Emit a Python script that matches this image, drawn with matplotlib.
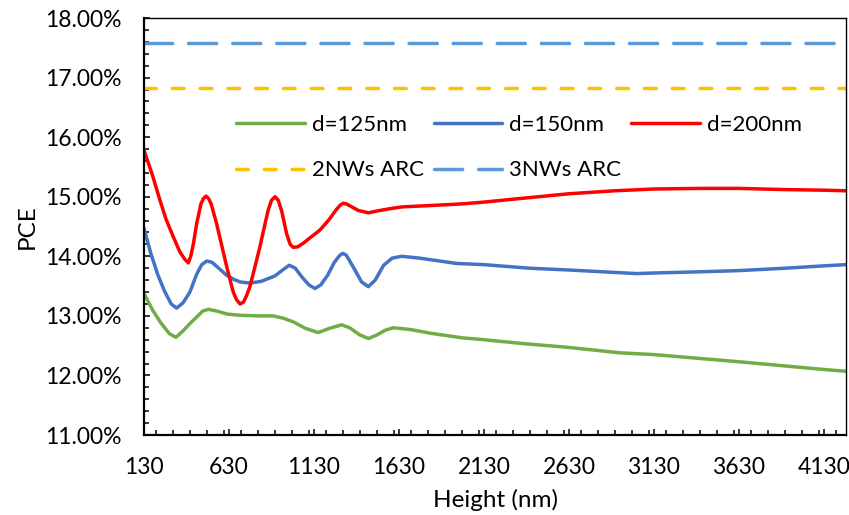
import matplotlib
matplotlib.use("Agg")
import matplotlib.pyplot as plt
from matplotlib.ticker import MultipleLocator, FixedLocator, FuncFormatter

plt.rcParams['font.family'] = ['Lato', 'DejaVu Sans']

# PCE (%) vs nanowire height (nm)
h_200 = [130, 180, 224, 260, 302, 340, 370, 391, 405, 420, 440, 465, 480, 495, 510, 525, 557, 590, 617,
         655, 675, 695, 715, 735, 753, 785, 812, 840, 861, 880, 901, 920, 940, 969, 990, 1008, 1035,
         1067, 1120, 1165, 1220, 1260, 1285, 1302, 1320, 1340, 1390, 1450, 1500, 1577, 1650, 1800,
         2000, 2130, 2342, 2630, 2900, 3130, 3400, 3630, 3900, 4130, 4260]
pce_200 = [15.78, 15.36, 14.94, 14.62, 14.33, 14.08, 13.95, 13.89, 14.00, 14.20, 14.55, 14.88, 14.97,
           15.01, 14.97, 14.88, 14.55, 14.15, 13.82, 13.40, 13.27, 13.20, 13.23, 13.35, 13.49, 13.85,
           14.16, 14.52, 14.78, 14.94, 15.00, 14.94, 14.76, 14.38, 14.20, 14.15, 14.16, 14.22, 14.34,
           14.44, 14.62, 14.78, 14.86, 14.89, 14.88, 14.85, 14.77, 14.73, 14.76, 14.80, 14.83, 14.85,
           14.88, 14.91, 14.97, 15.05, 15.10, 15.13, 15.14, 15.14, 15.12, 15.11, 15.10]

h_150 = [130, 170, 210, 250, 290, 322, 360, 400, 440, 470, 499, 530, 570, 617, 660, 695, 753, 820, 900,
         950, 985, 1020, 1060, 1100, 1136, 1170, 1210, 1250, 1280, 1299, 1320, 1361, 1410, 1450, 1490,
         1540, 1590, 1646, 1750, 1969, 2130, 2400, 2630, 3028, 3130, 3400, 3630, 3900, 4130, 4260]
pce_150 = [14.47, 14.05, 13.70, 13.42, 13.20, 13.13, 13.22, 13.40, 13.70, 13.86, 13.92, 13.90, 13.80,
           13.68, 13.61, 13.57, 13.55, 13.58, 13.67, 13.78, 13.85, 13.80, 13.65, 13.52, 13.46, 13.52,
           13.68, 13.90, 14.01, 14.05, 14.02, 13.82, 13.57, 13.49, 13.60, 13.85, 13.97, 14.00, 13.97,
           13.88, 13.86, 13.80, 13.77, 13.71, 13.72, 13.74, 13.76, 13.80, 13.84, 13.86]

h_125 = [130, 180, 230, 280, 318, 360, 400, 440, 475, 508, 560, 620, 695, 800, 891, 950, 1008, 1080,
         1155, 1220, 1293, 1340, 1400, 1450, 1500, 1550, 1597, 1700, 1812, 2006, 2130, 2342, 2630,
         2930, 3130, 3630, 4130, 4260]
pce_125 = [13.38, 13.10, 12.88, 12.70, 12.64, 12.75, 12.87, 12.98, 13.08, 13.11, 13.08, 13.03, 13.01,
           13.00, 13.00, 12.96, 12.90, 12.79, 12.72, 12.79, 12.85, 12.80, 12.68, 12.62, 12.68, 12.76,
           12.80, 12.77, 12.71, 12.63, 12.60, 12.54, 12.47, 12.38, 12.35, 12.23, 12.10, 12.07]

pce_2nws_arc = 16.83
pce_3nws_arc = 17.58

x_ticks = [130, 630, 1130, 1630, 2130, 2630, 3130, 3630, 4130]

fig = plt.figure(figsize=(8.49, 5.15), dpi=100)
ax = fig.add_axes([0.1696, 0.1553, 0.8269, 0.8097])

lw = 2.5
l125, = ax.plot(h_125, pce_125, color='#70AD47', lw=lw, label='d=125nm', solid_capstyle='round',
                solid_joinstyle='round')
l150, = ax.plot(h_150, pce_150, color='#4472C4', lw=lw, label='d=150nm', solid_capstyle='round',
                solid_joinstyle='round')
l200, = ax.plot(h_200, pce_200, color='#FF0000', lw=lw, label='d=200nm', solid_capstyle='round',
                solid_joinstyle='round')
a2 = ax.axhline(pce_2nws_arc, color='#FFC000', lw=lw, dashes=(3.4, 4.6), dash_capstyle='round',
                label='2NWs ARC')
a3 = ax.axhline(pce_3nws_arc, color='#5B9BD5', lw=lw, dashes=(8.1, 4.6), dash_capstyle='round',
                label='3NWs ARC')

ax.set_xlim(130, 4260)
ax.set_ylim(11, 18)
ax.xaxis.set_major_locator(FixedLocator(x_ticks))
ax.xaxis.set_minor_locator(MultipleLocator(100))
ax.yaxis.set_major_locator(MultipleLocator(1))
ax.yaxis.set_minor_locator(MultipleLocator(0.2))
ax.yaxis.set_major_formatter(FuncFormatter(lambda v, p: '%.2f%%' % v))

ax.tick_params(which='both', direction='in', width=1.1, colors='black', labelsize=16.5)
ax.tick_params(which='major', length=4.5)
ax.tick_params(which='minor', length=3.5)
ax.tick_params(axis='x', which='major', pad=16)
ax.tick_params(axis='y', which='major', pad=16)

for s in ['left', 'bottom']:
    ax.spines[s].set_linewidth(1.6)
for s in ['top', 'right']:
    ax.spines[s].set_linewidth(1.0)

ax.set_xlabel('Height (nm)', fontsize=17.5, labelpad=8)
ax.set_ylabel('PCE', fontsize=17.5, labelpad=5)

# legend fills column-wise, so reorder to get the row layout
handles = [l125, a2, l150, a3, l200]
ax.legend(handles=handles, labels=[h.get_label() for h in handles], ncol=3, loc='upper left',
          bbox_to_anchor=(0.131, 0.768), frameon=False, fontsize=16, handlelength=3.1,
          handletextpad=0.3, columnspacing=0.45, labelspacing=1.15, borderpad=0, borderaxespad=0)

fig.savefig('out.png', dpi=100)
